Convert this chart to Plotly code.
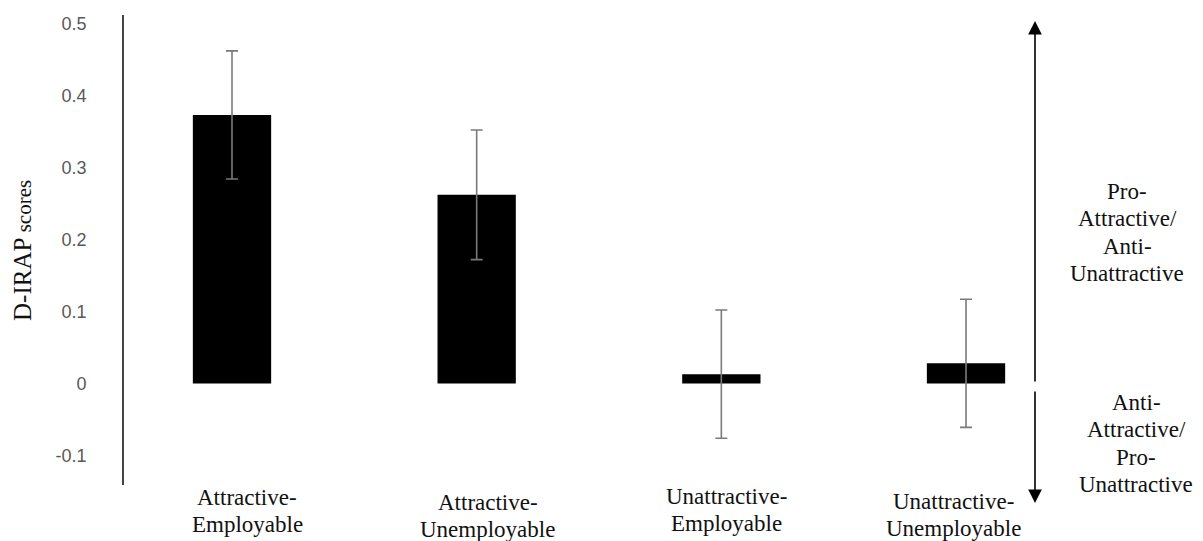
import plotly.graph_objects as go

# D-IRAP trial-type means with standard errors
categories = ["Attractive-Employable", "Attractive-Unemployable",
              "Unattractive-Employable", "Unattractive-Unemployable"]
means = [0.373, 0.262, 0.013, 0.028]
errors = [0.089, 0.090, 0.089, 0.089]

# Two-line category labels, drawn under each bar
label_lines = [["Attractive-", "Employable"],
               ["Attractive-", "Unemployable"],
               ["Unattractive-", "Employable"],
               ["Unattractive-", "Unemployable"]]

y_ticks = [-0.1, 0, 0.1, 0.2, 0.3, 0.4, 0.5]
y_tick_text = ["-0.1", "0", "0.1", "0.2", "0.3", "0.4", "0.5"]

upper_note = ["Pro-", "Attractive/", "Anti-", "Unattractive"]
lower_note = ["Anti-", "Attractive/", "Pro-", "Unattractive"]

W, H = 1203, 541
ML, MR, MT, MB = 124, 113, 15, 56
PW, PH = W - ML - MR, H - MT - MB

SERIF = "Liberation Serif, Times New Roman, serif"
TEXT_SIZE = 23
LINE_GAP = 27.5


def px_x(p):
    return (p - ML) / PW


def px_y(p):
    return (H - MB - p) / PH


def text_lines(lines, x, first_y, xref="paper", xshift=0):
    """One annotation per line so the line spacing stays tight."""
    out = []
    for k, line in enumerate(lines):
        out.append(dict(
            x=x, y=px_y(first_y + k * LINE_GAP), xref=xref, yref="paper",
            xanchor="center", yanchor="middle", xshift=xshift,
            text=line, showarrow=False,
            font=dict(family=SERIF, size=TEXT_SIZE, color="#111111"),
        ))
    return out


xs = list(range(len(categories)))

fig = go.Figure()
fig.add_trace(go.Bar(
    x=xs, y=means, width=0.32,
    marker=dict(color="#000000", line=dict(width=0)),
    error_y=dict(type="data", array=errors, visible=True,
                 color="#7a7a7a", thickness=1.6, width=6),
    hoverinfo="skip",
))

annotations = []

# category labels under the bars
label_x_shift = [15, 11, 5, -13]
label_first_y = [497, 502, 496, 501]
for i, lines in enumerate(label_lines):
    annotations += text_lines(lines, xs[i], label_first_y[i],
                              xref="x", xshift=label_x_shift[i])

# axis title
annotations.append(dict(
    x=px_x(22), y=px_y(251), xref="paper", yref="paper",
    xanchor="center", yanchor="middle", textangle=-90,
    text="D-IRAP <span style='font-size:21px'>scores</span>",
    showarrow=False,
    font=dict(family=SERIF, size=25, color="#111111"),
))

# direction arrows to the right of the bars
arrow_x = px_x(1035)
arrow_style = dict(xref="paper", yref="paper", text="", showarrow=True,
                   arrowhead=2, arrowsize=1.7, arrowwidth=1.6,
                   arrowcolor="#000000")
annotations.append(dict(x=arrow_x, y=px_y(21), ax=0, ay=383 - 21,
                        **arrow_style))
annotations.append(dict(x=arrow_x, y=px_y(503), ax=0, ay=-(503 - 390),
                        **arrow_style))

annotations += text_lines(upper_note, px_x(1127), 191)
annotations += text_lines(lower_note, px_x(1136), 402)

x0 = 232
step = 244.67
fig.update_layout(
    width=W, height=H,
    margin=dict(l=ML, r=MR, t=MT, b=MB, pad=0),
    paper_bgcolor="#ffffff", plot_bgcolor="#ffffff",
    showlegend=False,
    annotations=annotations,
    xaxis=dict(
        range=[(ML - x0) / step, (W - MR - x0) / step],
        showticklabels=False, showgrid=False, zeroline=False,
        showline=False, ticks="",
    ),
    yaxis=dict(
        range=[-(H - MB - 383.5) / 720, (383.5 - MT) / 720],
        tickvals=y_ticks, ticktext=y_tick_text,
        showgrid=False, zeroline=False,
        showline=True, linecolor="#444444", linewidth=1.6,
        ticks="", ticklabelstandoff=32,
        tickfont=dict(family="Liberation Sans, Arial, sans-serif",
                      size=18, color="#595959"),
    ),
)

fig.write_html("out.html")
